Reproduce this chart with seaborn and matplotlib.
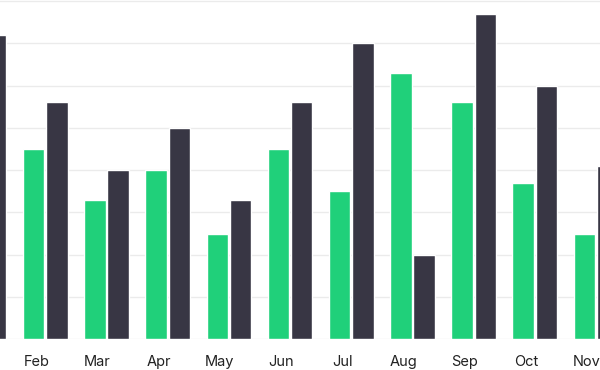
import pandas as pd
import matplotlib
matplotlib.use('Agg')
import matplotlib.pyplot as plt
import matplotlib.transforms as mtransforms
import seaborn as sns

# data (Jan green and Dec are outside the visible crop, guessed)
months = ['Jan', 'Feb', 'Mar', 'Apr', 'May', 'Jun', 'Jul', 'Aug', 'Sep', 'Oct', 'Nov', 'Dec']
series_a = [50, 45, 33, 40, 25, 45, 35, 63, 56, 37, 25, 40]
series_b = [72, 56, 40, 50, 33, 56, 70, 20, 77, 60, 41, 55]
series_names = ['Series A', 'Series B']

df = pd.DataFrame({
    'month': months * 2,
    'value': series_a + series_b,
    'series': [series_names[0]] * len(months) + [series_names[1]] * len(months),
})

sns.set_style('white')
plt.rcParams['font.family'] = ['Inter', 'DejaVu Sans']

fig = plt.figure(figsize=(6, 3.7), dpi=100)
# the reference is a crop: the axes run past the left and right edges
ax = fig.add_axes([-46.5 / 600, 30.7 / 370, 734.3 / 600, 340.5 / 370])

sns.barplot(data=df, x='month', y='value', hue='series',
            palette=['#20d07a', '#383644'], saturation=1,
            width=0.76, gap=0.08, legend=False, ax=ax)

ax.set_xlim(-0.5, 11.5)
ax.set_ylim(0, 80.5)
ax.set_yticks(range(0, 81, 10))
ax.yaxis.grid(True, color='#ebebeb', linewidth=1)
ax.set_axisbelow(True)
ax.set_yticklabels([])
ax.tick_params(axis='y', length=0)
ax.tick_params(axis='x', length=0, pad=11, labelsize=10.5, labelcolor='#222222')
ax.set_xlabel('')
ax.set_ylabel('')
for s in ax.spines.values():
    s.set_visible(False)

# month labels sit a little left of the bar pairs in the reference
shift = mtransforms.ScaledTranslation(-9 / 100, 0, fig.dpi_scale_trans)
for lbl in ax.get_xticklabels():
    lbl.set_transform(lbl.get_transform() + shift)

fig.savefig('out.png', dpi=100)
